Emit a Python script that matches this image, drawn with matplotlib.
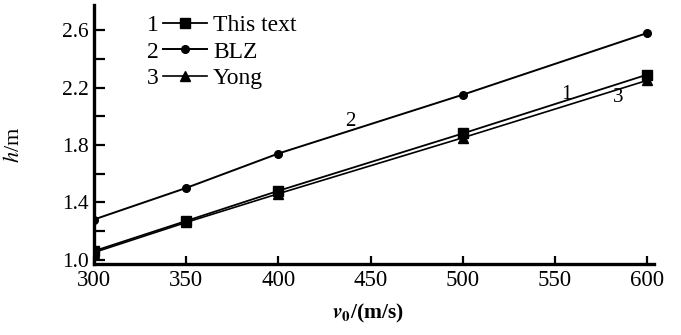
#
# plot.py - burst height h against initial speed v0 for three models.
#
import matplotlib
matplotlib.use('Agg')
import matplotlib.pyplot as plt

plt.rcParams['font.family'] = ['Liberation Serif', 'DejaVu Serif']
plt.rcParams['mathtext.fontset'] = 'stix'

v0 = [300, 350, 400, 500, 600]
h_this = [1.06, 1.27, 1.48, 1.88, 2.29]
h_blz = [1.28, 1.50, 1.74, 2.15, 2.58]
h_yong = [1.05, 1.26, 1.46, 1.85, 2.25]

names = ['This text', 'BLZ', 'Yong']
numbers = ['1', '2', '3']

xticks = [300, 350, 400, 450, 500, 550, 600]
yticks = [1.0, 1.4, 1.8, 2.2, 2.6]
yminor = [1.2, 1.6, 2.0, 2.4]

fig = plt.figure(figsize=(6.81, 3.35), dpi=100)
ax = fig.add_axes([0.138, 0.212, 0.822, 0.773])

l1, = ax.plot(v0, h_this, color='black', lw=1.3, marker='s', ms=6.5)
l2, = ax.plot(v0, h_blz, color='black', lw=1.4, marker='o', ms=5.5)
l3, = ax.plot(v0, h_yong, color='black', lw=1.2, marker='^', ms=7)

ax.set_xlim(300, 603.5)
ax.set_ylim(0.97, 2.775)
ax.set_xticks(xticks)
ax.set_yticks(yticks)
ax.set_yticks(yminor, minor=True)
ax.set_yticklabels(['%.1f' % t for t in yticks])

for side in ['top', 'right']:
    ax.spines[side].set_visible(False)
for side in ['left', 'bottom']:
    ax.spines[side].set_linewidth(2.4)

ax.tick_params(axis='both', which='both', direction='in', width=1.6,
               colors='black')
ax.tick_params(axis='y', which='both', length=8, pad=4, labelsize=15.5)
ax.tick_params(axis='x', which='major', length=6, pad=4, labelsize=16.5)

ax.set_xlabel(r'$\mathbfit{v}_\mathbf{0}$/(m/s)', fontsize=15.5,
              fontweight='bold')
ax.xaxis.set_label_coords(0.49, -0.145)
ax.set_ylabel(r'$\mathit{h}$/m', fontsize=16)
ax.yaxis.set_label_coords(-0.125, 0.46)

# curve numbers next to the lines
ax.text(439, 1.96, '2', fontsize=15, ha='center', va='center')
ax.text(556, 2.15, '1', fontsize=15, ha='center', va='center')
ax.text(584, 2.13, '3', fontsize=15, ha='center', va='center')

leg = ax.legend([l1, l2, l3], names, loc='upper left',
                bbox_to_anchor=(0.123, 0.962), frameon=False, fontsize=17,
                handlelength=1.85, handletextpad=0.27, labelspacing=0.2,
                borderpad=0, borderaxespad=0)

# put the curve numbers in front of each legend row
fig.canvas.draw()
inv = ax.transAxes.inverted()
for num, txt in zip(numbers, leg.get_texts()):
    bb = txt.get_window_extent()
    yc = inv.transform((0, (bb.y0 + bb.y1) / 2))[1]
    ax.text(0.105, yc, num, transform=ax.transAxes,
            fontsize=17, ha='center', va='center')

fig.savefig('out.png', dpi=100)
